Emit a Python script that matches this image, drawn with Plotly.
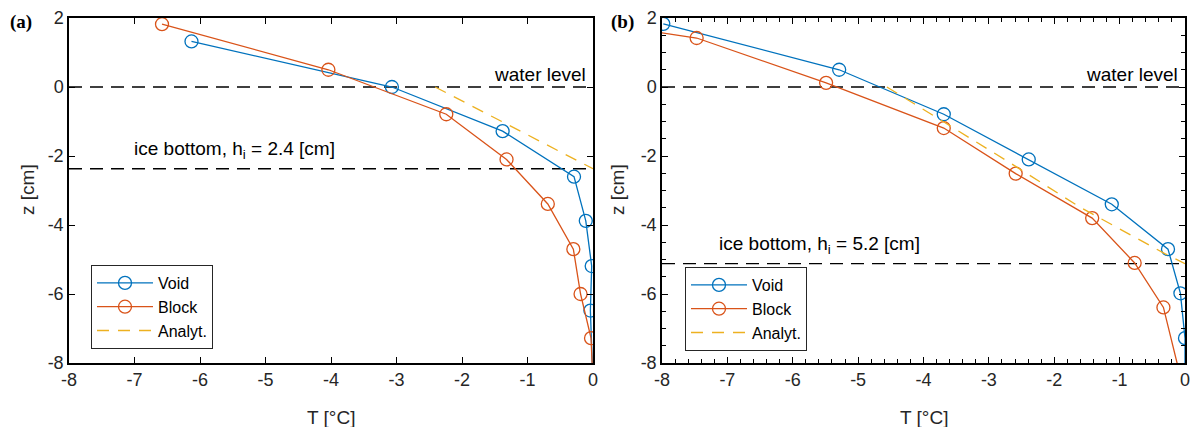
import plotly.graph_objects as go

# ---------------- data ----------------
void_a_T = [-6.13, -3.07, -1.38, -0.29, -0.11, -0.02, -0.04, 0.0]
void_a_z = [1.32, 0.00, -1.28, -2.60, -3.88, -5.19, -6.48, -8.60]
block_a_T = [-6.58, -4.04, -2.24, -1.32, -0.69, -0.30, -0.19, -0.03, 0.0]
block_a_z = [1.82, 0.50, -0.79, -2.10, -3.39, -4.70, -6.00, -7.28, -8.57]
analyt_a_T = [-2.41, 0.0]
analyt_a_z = [0.0, -2.37]

void_b_T = [-7.98, -5.29, -3.69, -2.39, -1.12, -0.26, -0.07, 0.0, 0.0]
void_b_z = [1.83, 0.50, -0.79, -2.10, -3.40, -4.70, -5.98, -7.28, -8.57]
block_b_T = [-8.90, -7.47, -5.49, -3.69, -2.59, -1.42, -0.77, -0.33, -0.05]
block_b_z = [1.82, 1.42, 0.12, -1.19, -2.51, -3.80, -5.10, -6.39, -8.55]
analyt_b_T = [-4.56, -2.70, -1.61, -0.31, 0.0]
analyt_b_z = [0.0, -2.17, -3.48, -4.83, -5.12]

water_level = [0.0, 0.0]        # panel a, panel b
ice_bottom = [-2.37, -5.12]     # panel a, panel b
ice_labels = ["ice bottom, h<sub>i</sub> = 2.4 [cm]", "ice bottom, h<sub>i</sub> = 5.2 [cm]"]
panel_labels = ["(a)", "(b)"]

x_tickvals = [-8, -7, -6, -5, -4, -3, -2, -1, 0]
x_ticktext = ["-8", "-7", "-6", "-5", "-4", "-3", "-2", "-1", "0"]
y_tickvals = [-8, -6, -4, -2, 0, 2]
y_ticktext = ["-8", "-6", "-4", "-2", "0", "2"]

# ---------------- style ----------------
W, H = 1192, 427
BLUE = "#0072BD"
ORANGE = "#D95319"
YELLOW = "#EDB120"
AX = "#262626"
FONT = "Liberation Sans, Arial, sans-serif"

minor_x = [round(-8 + 0.2 * k, 1) for k in range(41)]
minor_y = [round(-8 + 0.5 * k, 1) for k in range(21)]


def px_x(p):
    return p / W


def px_y(p):
    return 1 - p / H


dom_a = [px_x(69), px_x(593)]
dom_b = [px_x(662), px_x(1185)]
dom_y = [px_y(363), px_y(18)]

fig = go.Figure()


def add_panel(T_v, z_v, T_b, z_b, T_an, z_an, xa, ya, leg):
    fig.add_trace(go.Scatter(
        x=T_v, y=z_v, name="Void", mode="lines+markers", xaxis=xa, yaxis=ya, legend=leg,
        line=dict(color=BLUE, width=1.3),
        marker=dict(symbol="circle-open", size=13, color=BLUE, line=dict(width=1.3, color=BLUE))))
    fig.add_trace(go.Scatter(
        x=T_b, y=z_b, name="Block", mode="lines+markers", xaxis=xa, yaxis=ya, legend=leg,
        line=dict(color=ORANGE, width=1.3),
        marker=dict(symbol="circle-open", size=13, color=ORANGE, line=dict(width=1.3, color=ORANGE))))
    fig.add_trace(go.Scatter(
        x=T_an, y=z_an, name="Analyt.", mode="lines", xaxis=xa, yaxis=ya, legend=leg,
        line=dict(color=YELLOW, width=1.3, dash="12px,9px")))


add_panel(void_a_T, void_a_z, block_a_T, block_a_z, analyt_a_T, analyt_a_z, "x", "y", "legend")
add_panel(void_b_T, void_b_z, block_b_T, block_b_z, analyt_b_T, analyt_b_z, "x2", "y2", "legend2")


def xaxis(dom, anchor, use_minor):
    d = dict(
        domain=dom, anchor=anchor, range=[-8, 0], tickmode="array",
        tickvals=x_tickvals, ticktext=x_ticktext, automargin=False,
        showline=True, linecolor="black", linewidth=1.5, mirror="ticks",
        ticks="inside", ticklen=6, tickwidth=1.3, tickcolor="black",
        showgrid=False, zeroline=False,
        tickfont=dict(family=FONT, size=18, color=AX))
    if use_minor:
        d["minor"] = dict(tickmode="array", tickvals=minor_x, ticks="inside", ticklen=4,
                          tickwidth=1.2, tickcolor="black", showgrid=False)
    return d


def yaxis(anchor, use_minor):
    d = dict(
        domain=dom_y, anchor=anchor, range=[-8, 2], tickmode="array",
        tickvals=y_tickvals, ticktext=y_ticktext, automargin=False,
        showline=True, linecolor="black", linewidth=1.5, mirror="ticks",
        ticks="inside", ticklen=6, tickwidth=1.3, tickcolor="black",
        showgrid=False, zeroline=False,
        tickfont=dict(family=FONT, size=18, color=AX))
    if use_minor:
        d["minor"] = dict(tickmode="array", tickvals=minor_y, ticks="inside", ticklen=4,
                          tickwidth=1.2, tickcolor="black", showgrid=False)
    return d


shapes = []
annotations = []
for i, (xr, yr) in enumerate([("x", "y"), ("x2", "y2")]):
    for yv in (water_level[i], ice_bottom[i]):
        shapes.append(dict(type="line", xref=xr + " domain", yref=yr, x0=0, x1=1, y0=yv, y1=yv,
                           line=dict(color="black", width=1.3, dash="13px,8px"), layer="below"))
    annotations.append(dict(xref=xr, yref=yr, x=-0.08, y=water_level[i] + 0.35, text="water level",
                            showarrow=False, xanchor="right", yanchor="middle",
                            font=dict(family=FONT, size=19, color="black")))
    annotations.append(dict(xref=xr, yref=yr, x=-7.04 if i == 0 else -7.16, y=ice_bottom[i] + 0.55,
                            text=ice_labels[i], showarrow=False, xanchor="left", yanchor="middle",
                            font=dict(family=FONT, size=19, color="black")))

for cx, cy in [(27, 190), (617, 190)]:
    annotations.append(dict(xref="paper", yref="paper", x=px_x(cx), y=px_y(cy), text="z [cm]",
                            textangle=-90, showarrow=False, xanchor="center", yanchor="middle",
                            font=dict(family=FONT, size=19, color=AX)))
for cx in (331, 924):
    annotations.append(dict(xref="paper", yref="paper", x=px_x(cx), y=px_y(417), text="T [°C]",
                            showarrow=False, xanchor="center", yanchor="middle",
                            font=dict(family=FONT, size=19, color=AX)))
for lab, cx in zip(panel_labels, (21, 622)):
    annotations.append(dict(xref="paper", yref="paper", x=px_x(cx), y=px_y(22), text="<b>" + lab + "</b>",
                            showarrow=False, xanchor="center", yanchor="middle",
                            font=dict(family="Liberation Serif, Times New Roman, serif", size=19, color="black")))

legend_style = dict(bgcolor="white", bordercolor=AX, borderwidth=1,
                    font=dict(family=FONT, size=16, color="black"),
                    xanchor="left", yanchor="top", itemwidth=56, tracegroupgap=0)

fig.update_layout(
    template="none",
    width=W, height=H, margin=dict(l=0, r=0, t=0, b=0, pad=0, autoexpand=False),
    paper_bgcolor="white", plot_bgcolor="white",
    xaxis=xaxis(dom_a, "y", False), yaxis=yaxis("x", False),
    xaxis2=xaxis(dom_b, "y2", True), yaxis2=yaxis("x2", True),
    shapes=shapes, annotations=annotations,
    legend=dict(x=px_x(91), y=px_y(265), **legend_style),
    legend2=dict(x=px_x(685), y=px_y(267), **legend_style),
    showlegend=True,
)

fig.write_html("out.html", config={"displayModeBar": False},
               post_script="document.body.style.margin='0px';")
